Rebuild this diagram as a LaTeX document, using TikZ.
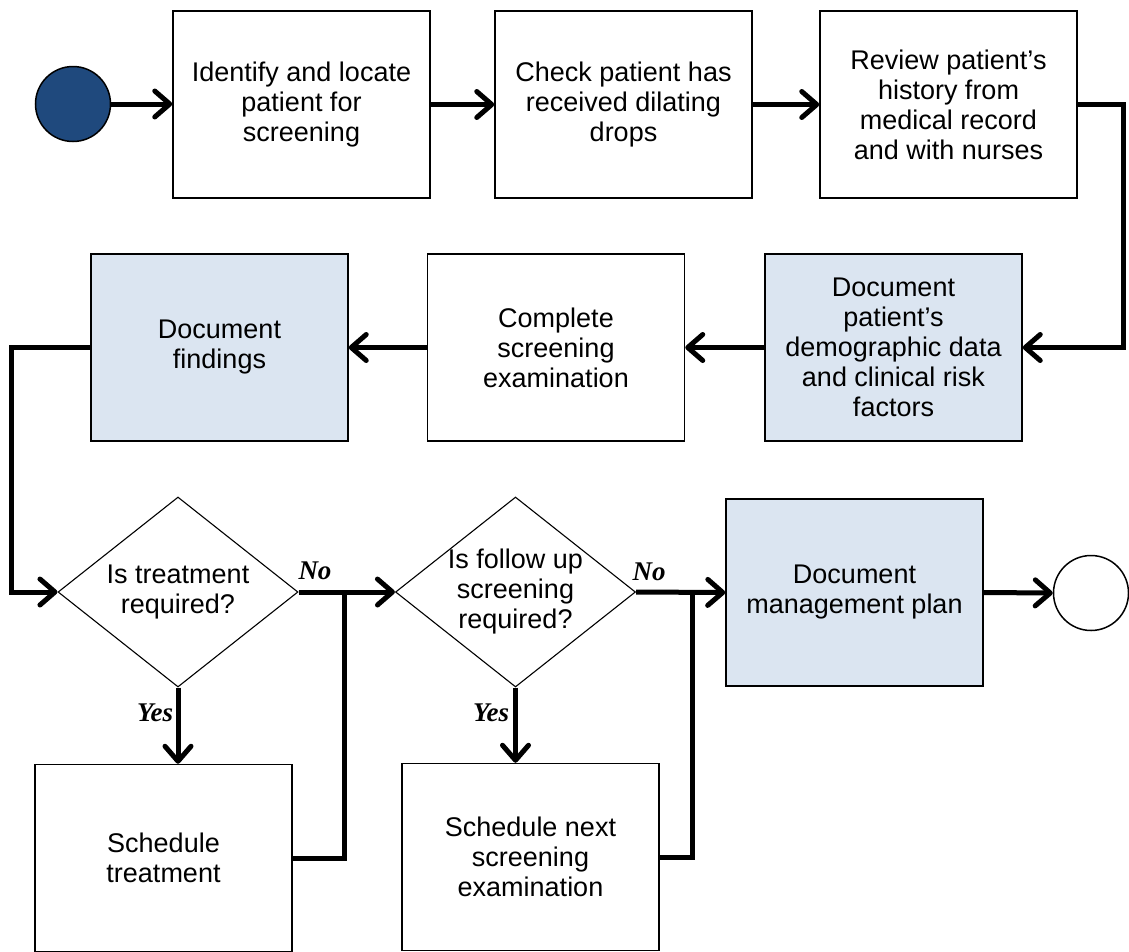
\documentclass[tikz,border=0pt]{standalone}
\usepackage{fontspec}
\setmainfont{Liberation Sans}
\newfontfamily\labelserif{Liberation Serif}
\usetikzlibrary{arrows.meta,shapes.geometric}
\definecolor{startblue}{RGB}{31,73,125}
\definecolor{paleblue}{RGB}{219,229,241}

\begin{document}
\begin{tikzpicture}[x=1pt,y=-1pt,
  every node/.style={font=\fontsize{27}{30}\selectfont},
  procbox/.style={draw=black, line width=1.5pt, rectangle, minimum width=257pt,
    minimum height=187pt, inner sep=0pt, align=center, fill=white},
  shaded/.style={procbox, fill=paleblue},
  decision/.style={draw=black, line width=1.1pt, diamond, minimum width=240pt,
    minimum height=190pt, inner sep=0pt, fill=white},
  terminal/.style={draw=black, line width=1.5pt, circle, minimum size=75pt, inner sep=0pt},
  conn/.style={line width=5pt, line join=miter},
  flow/.style={conn, -{Straight Barb[length=15pt,width=26pt,round]}},
  answer/.style={font=\labelserif\bfseries\itshape\fontsize{27}{30}\selectfont, inner sep=0pt}
]
\useasboundingbox (0,0) rectangle (1129,951);

% first row
\node[terminal, fill=startblue] (start) at (73,104) {};
\node[procbox] (b1) at (301.5,104.5) {Identify and locate\\patient for\\screening};
\node[procbox] (b2) at (623.5,104.5) {Check patient has\\received dilating\\drops};
\node[procbox] (b3) at (948.5,104.5) {Review patient’s\\history from\\medical record\\and with nurses};

% second row
\node[shaded] (b4) at (893.5,347.5) {Document\\patient’s\\demographic data\\and clinical risk\\factors};
\node[procbox] (b5) at (556,347.5) {Complete\\screening\\examination};
\node[shaded] (b6) at (219.5,347.5) {Document\\findings};

% decisions and outcome
\node[decision] (d1) at (178,592) {};
\node[align=center] (d1t) at (d1) {Is treatment\\required?};
\node[decision] (d2) at (515.5,592) {};
\node[align=center] (d2t) at (d2) {Is follow up\\screening\\required?};
\node[shaded] (mg) at (854.5,592.5) {Document\\management plan};
\node[terminal, fill=white] (stop) at (1091,593) {};

% scheduling boxes
\node[procbox] (st) at (163.5,858) {Schedule\\treatment};
\node[procbox] (sn) at (530.5,857) {Schedule next\\screening\\examination};

% junction points on the main line
\coordinate (j1) at (344,592);
\coordinate (j2) at (692,592);

% connectors
\draw[flow] (start.east) -- (start.east -| b1.west);
\draw[flow] (b1.east) -- (b2.west);
\draw[flow] (b2.east) -- (b3.west);
\draw[flow] (b3.east) -- ++(46,0) |- (b4.east);
\draw[flow] (b4.west) -- (b5.east);
\draw[flow] (b5.west) -- (b6.east);
\draw[flow] (b6.west) -- ++(-79,0) |- (d1.west);
\draw[flow] (d1.east) -- (d2.west);
\draw[flow] (d2.east) -- (mg.west);
\draw[flow] (mg.east) -- (stop.west);
\draw[flow] (d1.south) -- (d1.south |- st.north);
\draw[flow] (d2.south) -- (d2.south |- sn.north);
\draw[conn] (st.east) -| (j1);
\draw[conn] (sn.east) -| (j2);

% branch labels
\node[answer] (no1) at (315,571) {No};
\node[answer] (no2) at (649,572) {No};
\node[answer] (yes1) at (155,713) {Yes};
\node[answer] (yes2) at (491,713) {Yes};
\end{tikzpicture}
\end{document}
